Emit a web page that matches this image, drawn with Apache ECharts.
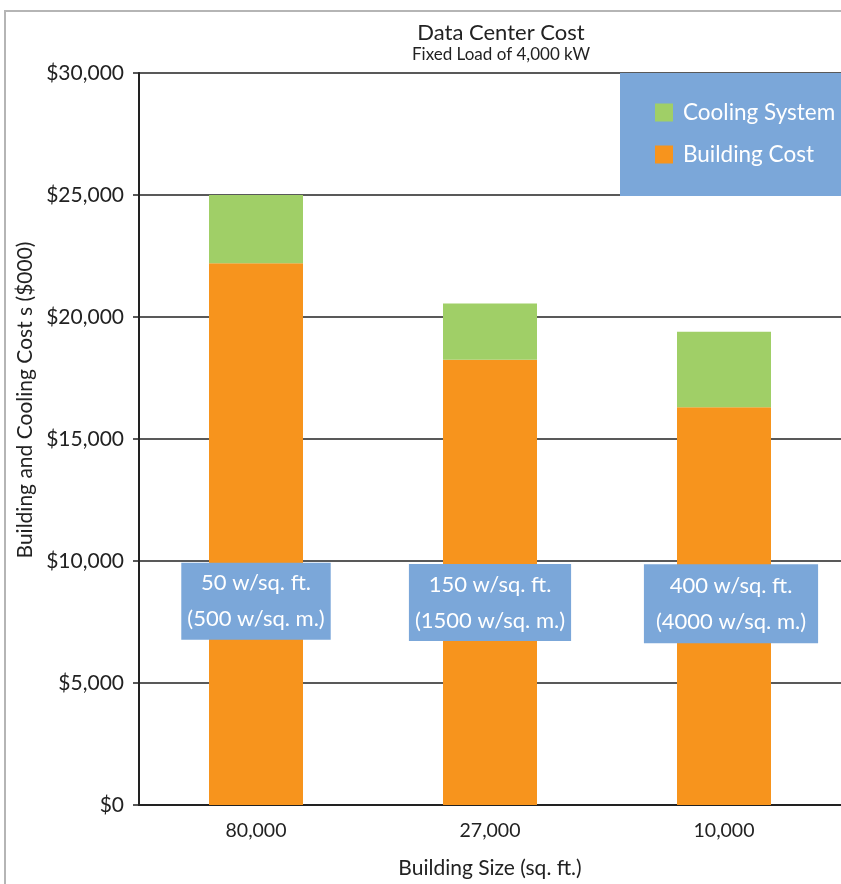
<!DOCTYPE html>
<html>
<head>
<meta charset="utf-8">
<script src="https://cdn.jsdelivr.net/npm/echarts@6/dist/echarts.min.js"></script>
<style>
html,body{margin:0;padding:0;background:#fff;}
#chart{width:841px;height:884px;}
</style>
</head>
<body>
<div id="chart"></div>
<script>
const categories = ['80,000', '27,000', '10,000'];
const buildingCost = [22200, 18250, 16300];
const coolingSystem = [2800, 2300, 3100];
const densityLabels = ['50 w/sq. ft.\n(500 w/sq. m.)', '150 w/sq. ft.\n(1500 w/sq. m.)', '400 w/sq. ft.\n(4000 w/sq. m.)'];
const densityLabelValue = [8350, 8300, 8250];
const yTicks = [0, 5000, 10000, 15000, 20000, 25000, 30000];

const FONT = 'Lato';
const labelOffsets = [[0, 0], [0, 0], [7, 0]];
const labelPaddings = [[3, 6, 2, 6], [3, 6, 2, 6], [4, 12, 3, 12]];
const chart = echarts.init(document.getElementById('chart'), null, {renderer: 'canvas'});
const fmt = v => '$' + String(v).replace(/\B(?=(\d{3})+(?!\d))/g, ',');

chart.setOption({
  backgroundColor: '#ffffff',
  animation: false,
  textStyle: {fontFamily: FONT},
  title: {
    text: 'Data Center Cost',
    subtext: 'Fixed Load of 4,000 kW',
    left: 496, top: 17, textAlign: 'center', itemGap: 2,
    textStyle: {fontFamily: FONT, fontSize: 22, fontWeight: 'normal', color: '#222'},
    subtextStyle: {fontFamily: FONT, fontSize: 17, color: '#222'}
  },
  graphic: [
    {type: 'polyline', shape: {points: [[5, 884], [5, 11], [841, 11]]}, style: {stroke: '#b5b5b5', lineWidth: 2, fill: null}, z: 0},
    {type: 'rect', shape: {x: 620, y: 73, width: 221, height: 123}, style: {fill: '#7ba7d9'}, z: 1},
    {type: 'text', x: 25, y: 400, rotation: Math.PI / 2,
     style: {text: 'Building and Cooling Cost s ($000)', fontFamily: FONT, fontSize: 21, fill: '#222', align: 'center', verticalAlign: 'middle'}}
  ],
  legend: {
    data: ['Cooling System', 'Building Cost'],
    orient: 'vertical', left: 655, top: 101, itemWidth: 18, itemHeight: 18, itemGap: 19,
    icon: 'rect', z: 5, padding: 0,
    textStyle: {fontFamily: FONT, fontSize: 22.5, color: '#ffffff', padding: [0, 0, 0, 5]}
  },
  grid: {left: 139, right: 0, top: 73, bottom: 76, containLabel: false},
  xAxis: {
    type: 'category', data: categories,
    axisLine: {show: true, lineStyle: {color: '#222', width: 2}},
    axisTick: {show: false},
    axisLabel: {fontFamily: FONT, fontSize: 19.5, color: '#222', margin: 16},
    name: 'Building Size (sq. ft.)', nameLocation: 'middle', nameGap: 53,
    nameTextStyle: {fontFamily: FONT, fontSize: 21, color: '#222'}
  },
  yAxis: {
    type: 'value', min: 0, max: 30000, interval: 5000,
    axisLine: {show: true, lineStyle: {color: '#222', width: 2}},
    axisTick: {show: true, length: 6, lineStyle: {color: '#222', width: 1.5}},
    axisLabel: {fontFamily: FONT, fontSize: 21, color: '#222', margin: 15, formatter: fmt},
    splitLine: {show: true, lineStyle: {color: '#222', width: 1.5}}
  },
  series: [
    {name: 'Building Cost', type: 'bar', stack: 'total', data: buildingCost, barWidth: 94, itemStyle: {color: '#f7941d'}, z: 3},
    {name: 'Cooling System', type: 'bar', stack: 'total', data: coolingSystem, barWidth: 94, itemStyle: {color: '#a0cf67'}, z: 3},
    {name: 'density', type: 'scatter', symbolSize: 0, itemStyle: {color: '#7ba7d9', opacity: 1}, z: 6,
     data: densityLabelValue.map((v, i) => ({value: v, label: {offset: labelOffsets[i], padding: labelPaddings[i]}})),
     emphasis: {disabled: true}, silent: true,
     label: {show: true, position: 'inside', formatter: p => densityLabels[p.dataIndex], opacity: 1,
       fontFamily: FONT, fontSize: 22, color: '#ffffff', backgroundColor: '#7ba7d9', lineHeight: 36, align: 'center'}}
  ]
});
</script>
</body>
</html>
